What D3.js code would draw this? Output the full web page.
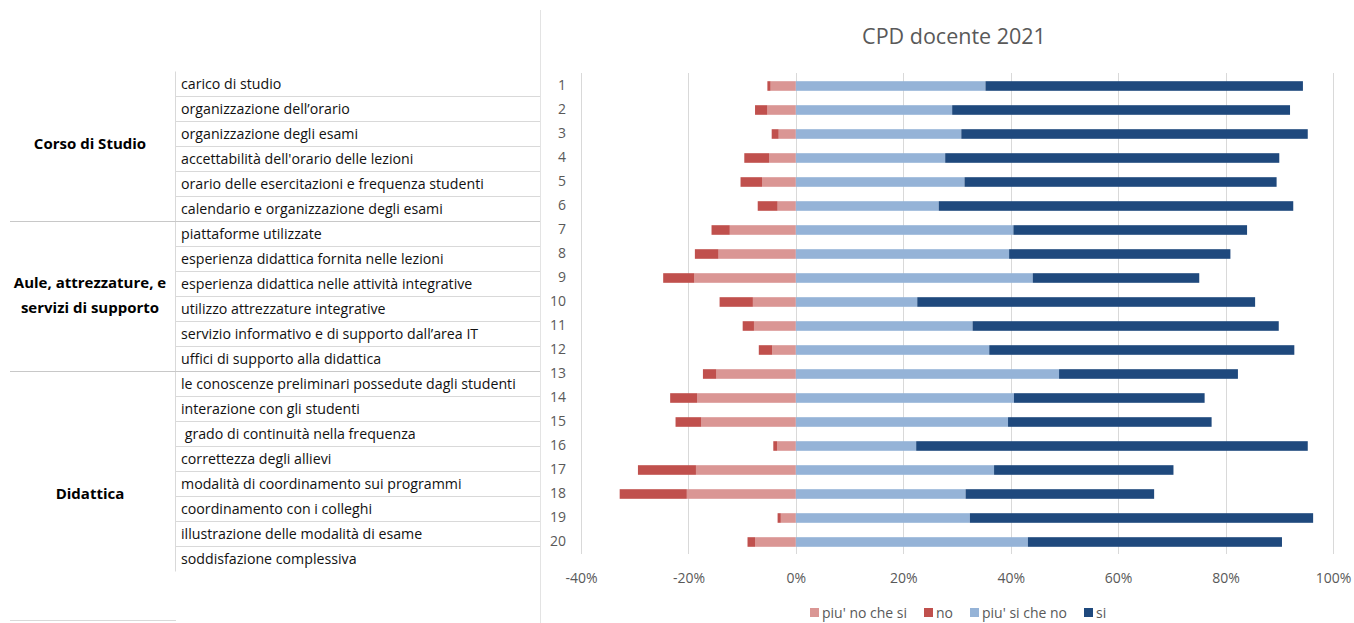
<!DOCTYPE html>
<html>
<head>
<meta charset="utf-8">
<script src="https://cdn.jsdelivr.net/npm/d3@7"></script>
<style>
  body { margin: 0; background: #fff; }
  svg { display: block; font-family: "Open Sans", "Noto Sans", sans-serif; }
</style>
</head>
<body>
<svg id="chart" width="1354" height="623"></svg>
<script>
// question numbers (y categories)
const categories = d3.range(1, 21).map(String);

// table labels on the left
const itemLabels = [
  "carico di studio",
  "organizzazione dell\u2019orario",
  "organizzazione degli esami",
  "accettabilità dell'orario delle lezioni",
  "orario delle esercitazioni e frequenza studenti",
  "calendario e organizzazione degli esami",
  "piattaforme utilizzate",
  "esperienza didattica fornita nelle lezioni",
  "esperienza didattica nelle attività integrative",
  "utilizzo attrezzature integrative",
  "servizio informativo e di supporto dall\u2019area IT",
  "uffici di supporto alla didattica",
  "le conoscenze preliminari possedute dagli studenti",
  "interazione con gli studenti",
  " grado di continuità nella frequenza",
  "correttezza degli allievi",
  "modalità di coordinamento sui programmi",
  "coordinamento con i colleghi",
  "illustrazione delle modalità di esame",
  "soddisfazione complessiva"
];

const groupNames = [["Corso di Studio"], ["Aule, attrezzature, e", "servizi di supporto"], ["Didattica"]];

// series, percent of answers
const piuNoCheSi = [4.7, 5.3, 3.2, 5.0, 6.3, 3.4, 12.3, 14.4, 18.9, 8.0, 7.8, 4.4, 14.8, 18.4, 17.6, 3.5, 18.6, 20.3, 2.8, 7.6];
const no = [0.6, 2.3, 1.3, 4.6, 4.0, 3.7, 3.4, 4.4, 5.8, 6.2, 2.1, 2.5, 2.5, 5.0, 4.8, 0.7, 10.8, 12.5, 0.6, 1.4];
const piuSiCheNo = [35.3, 29.1, 30.8, 27.8, 31.4, 26.6, 40.5, 39.7, 44.1, 22.6, 32.9, 36.0, 49.0, 40.6, 39.5, 22.4, 36.9, 31.6, 32.4, 43.2];
const si = [59.1, 62.9, 64.5, 62.2, 58.1, 66.0, 43.5, 41.2, 31.0, 62.9, 57.0, 56.8, 33.3, 35.5, 37.9, 72.9, 33.4, 35.1, 63.9, 47.3];

const xTicks = [-40, -20, 0, 20, 40, 60, 80, 100];

const seriesKeys = ["piu' no che si", "no", "piu' si che no", "si"];
const colors = ["#da9694", "#c0504d", "#95b3d7", "#1f497d"];

const rows = categories.map((c, i) => ({
  cat: c,
  "piu' no che si": -piuNoCheSi[i],
  "no": -no[i],
  "piu' si che no": piuSiCheNo[i],
  "si": si[i]
}));

const svg = d3.select("#chart");
const grid = "#d9d9d9";

// ---- left table ----
const tableRow = 25, tableTop = 71.5;
const table = svg.append("g");

table.append("line")
  .attr("x1", 175.5).attr("x2", 175.5)
  .attr("y1", tableTop).attr("y2", tableTop + 20 * tableRow)
  .attr("stroke", grid);

itemLabels.forEach((t, i) => {
  const y0 = tableTop + i * tableRow;
  if (i > 0) {
    const groupEdge = (i === 6 || i === 12);
    table.append("line")
      .attr("x1", groupEdge ? 10 : 175).attr("x2", 540)
      .attr("y1", y0).attr("y2", y0)
      .attr("stroke", groupEdge ? "#c8c8c8" : grid);
  }
  table.append("text")
    .attr("x", 181).attr("y", y0 + tableRow / 2)
    .attr("dy", "0.35em")
    .attr("font-size", 14.2)
    .attr("fill", "#111")
    .style("white-space", "pre")
    .text(t);
});

const groupY = [[144], [283, 308], [494]];
groupNames.forEach((lines, g) => {
  lines.forEach((l, j) => {
    table.append("text")
      .attr("x", 90).attr("y", groupY[g][j])
      .attr("dy", "0.35em")
      .attr("text-anchor", "middle")
      .attr("font-size", 15)
      .attr("font-weight", "bold")
      .attr("fill", "#000")
      .text(l);
  });
});

table.append("line")
  .attr("x1", 10).attr("x2", 176).attr("y1", 620.5).attr("y2", 620.5)
  .attr("stroke", grid);

// frame border of the chart
svg.append("line")
  .attr("x1", 540.5).attr("x2", 540.5).attr("y1", 10).attr("y2", 623)
  .attr("stroke", "#e3e3e3");

// ---- chart ----
const x = d3.scaleLinear().domain([-40, 100]).range([581, 1333]);
const y = d3.scaleBand().domain(categories).range([74, 554])
  .paddingInner(0.6).paddingOuter(0.3);

svg.append("g")
  .selectAll("line")
  .data(xTicks)
  .join("line")
    .attr("x1", d => Math.round(x(d)) + 0.5)
    .attr("x2", d => Math.round(x(d)) + 0.5)
    .attr("y1", 73).attr("y2", 554)
    .attr("stroke", grid);

const stacked = d3.stack()
  .keys(seriesKeys)
  .offset(d3.stackOffsetDiverging)(rows);

svg.append("g")
  .selectAll("g")
  .data(stacked)
  .join("g")
    .attr("fill", (d, i) => colors[i])
  .selectAll("rect")
  .data(d => d)
  .join("rect")
    .attr("x", d => x(Math.min(d[0], d[1])))
    .attr("y", d => y(d.data.cat))
    .attr("width", d => Math.abs(x(d[1]) - x(d[0])))
    .attr("height", y.bandwidth());

// y axis (numbers)
svg.append("g")
  .attr("transform", `translate(${x(-40)},0)`)
  .call(d3.axisLeft(y).tickSize(0).tickPadding(15))
  .call(g => g.select(".domain").remove())
  .selectAll("text")
    .attr("font-family", "\"Open Sans\", sans-serif")
    .attr("font-size", 14)
    .attr("fill", "#595959");

// x axis
svg.append("g")
  .attr("transform", "translate(0,554)")
  .call(d3.axisBottom(x).tickValues(xTicks).tickFormat(d => d + "%").tickSize(0).tickPadding(19))
  .call(g => g.select(".domain").remove())
  .selectAll("text")
    .attr("font-family", "\"Open Sans\", sans-serif")
    .attr("font-size", 14)
    .attr("fill", "#595959");

// title
svg.append("text")
  .attr("x", 954).attr("y", 36)
  .attr("dy", "0.35em")
  .attr("text-anchor", "middle")
  .attr("font-size", 21.5)
  .attr("fill", "#595959")
  .text("CPD docente 2021");

// legend
const legendX = [810, 924, 970, 1084];
const legend = svg.append("g");
seriesKeys.forEach((k, i) => {
  legend.append("rect")
    .attr("x", legendX[i]).attr("y", 608)
    .attr("width", 9).attr("height", 9)
    .attr("fill", colors[i]);
  legend.append("text")
    .attr("x", legendX[i] + 12).attr("y", 613)
    .attr("dy", "0.35em")
    .attr("font-size", 14)
    .attr("fill", "#595959")
    .text(k);
});
</script>
</body>
</html>
